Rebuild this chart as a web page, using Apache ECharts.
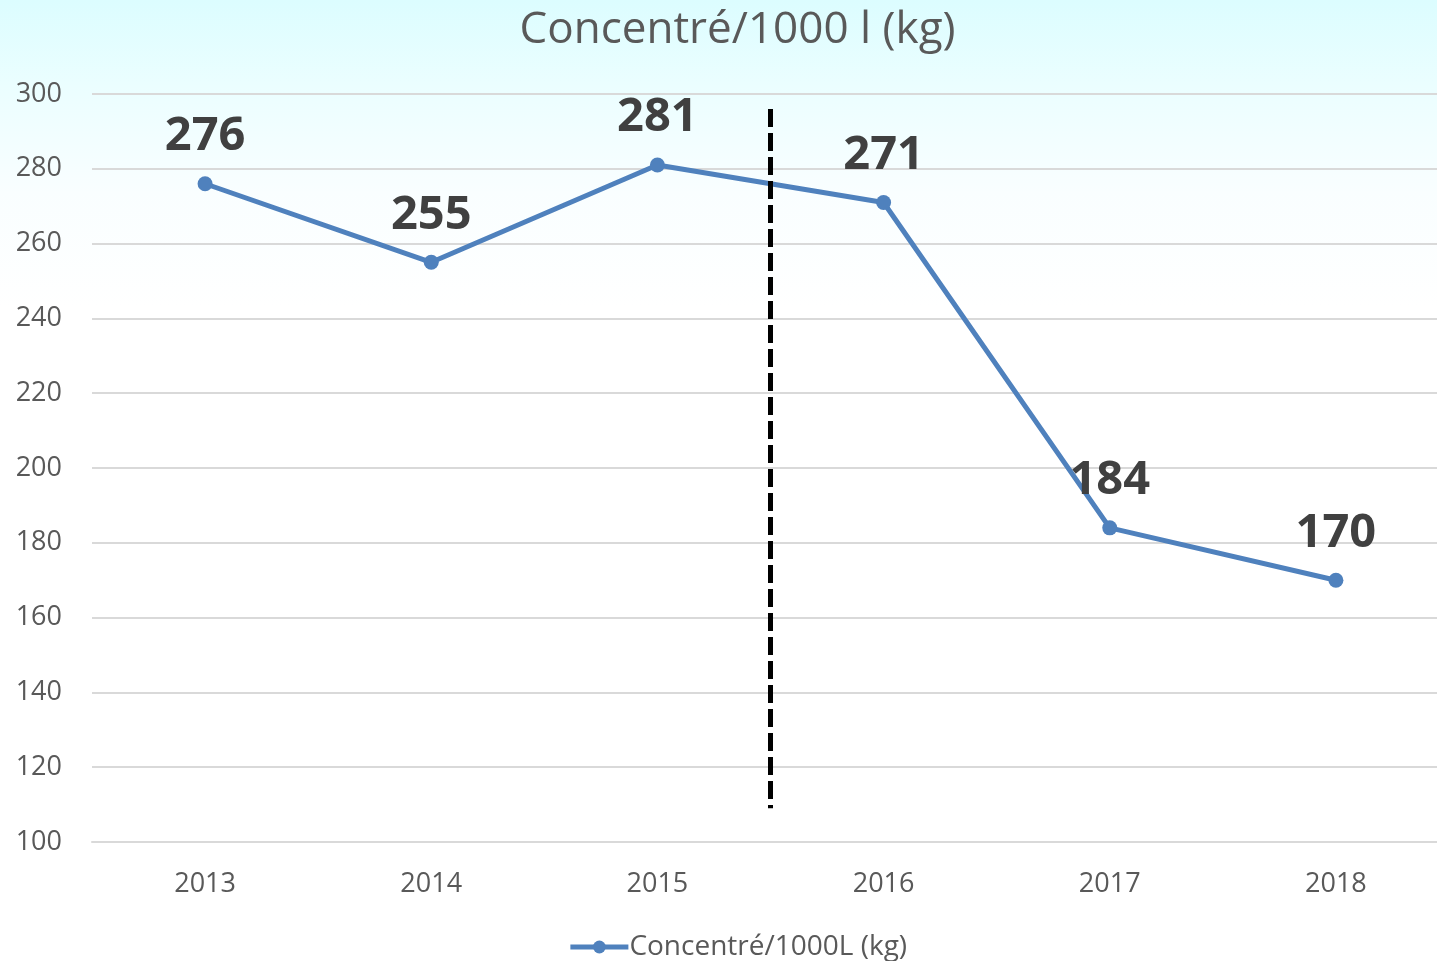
<!DOCTYPE html>
<html>
<head>
<meta charset="utf-8">
<script src="https://cdn.jsdelivr.net/npm/echarts@6/dist/echarts.min.js"></script>
<style>
html,body{margin:0;padding:0;overflow:hidden;width:1437px;height:961px;}
#main{width:1475px;height:961px;}
</style>
</head>
<body>
<div id="main"></div>
<script>
const titleText = 'Concentré/1000 l (kg)';
const seriesName = 'Concentré/1000L (kg)';
const years = ['2013', '2014', '2015', '2016', '2017', '2018'];
const values = [276, 255, 281, 271, 184, 170];
const dividerX = 3;          // boundary between 2015 and 2016 (in band units)
const dividerYRange = [296, 109];

const chart = echarts.init(document.getElementById('main'));
const font = '"Open Sans", sans-serif';
chart.setOption({
  backgroundColor: {
    type: 'linear', x: 0, y: 0, x2: 0, y2: 1,
    colorStops: [
      { offset: 0, color: '#dcfdff' },
      { offset: 0.09, color: '#ebfeff' },
      { offset: 0.2, color: '#f9feff' },
      { offset: 0.32, color: '#ffffff' },
      { offset: 1, color: '#ffffff' }
    ]
  },
  title: {
    text: titleText,
    left: 'center',
    top: 3,
    textStyle: { fontFamily: font, fontSize: 44, fontWeight: 'normal', color: '#595959' }
  },
  legend: {
    data: [seriesName],
    bottom: -5,
    left: 'center',
    itemWidth: 58,
    itemHeight: 16,
    itemGap: 0,
    lineStyle: { width: 5, color: '#4f81bd' },
    textStyle: { fontFamily: font, fontSize: 28, color: '#595959', padding: [0, 0, 0, -4] }
  },
  grid: { left: 92, right: 26, top: 94, bottom: 119, containLabel: false },
  xAxis: [
    {
      type: 'category',
      data: years,
      boundaryGap: true,
      axisLine: { show: true, lineStyle: { color: '#d9d9d9', width: 2 } },
      axisTick: { show: false },
      axisLabel: { fontFamily: font, fontSize: 27, color: '#595959', margin: 29 }
    },
    {
      type: 'value',
      min: 0, max: 6,
      show: false
    }
  ],
  yAxis: {
    type: 'value',
    min: 100, max: 300, interval: 20,
    axisLine: { show: false },
    axisTick: { show: false },
    axisLabel: { fontFamily: font, fontSize: 27, color: '#595959', margin: 30 },
    splitLine: { lineStyle: { color: '#d9d9d9', width: 2 } }
  },
  series: [
    {
      name: seriesName,
      type: 'line',
      data: values,
      color: '#4f81bd',
      lineStyle: { width: 5, color: '#4f81bd' },
      symbol: 'circle',
      symbolSize: 15,
      itemStyle: { color: '#4f81bd' },
      label: {
        show: true,
        position: 'top',
        distance: 16,
        fontFamily: font,
        fontSize: 47,
        fontWeight: 'bold',
        color: '#404040'
      },
      z: 3
    },
    {
      name: 'divider',
      type: 'line',
      xAxisIndex: 1,
      data: [[dividerX, dividerYRange[0]], [dividerX, dividerYRange[1]]],
      symbol: 'none',
      lineStyle: { color: '#000000', width: 5, type: [18, 6] },
      silent: true,
      z: 4
    }
  ]
});
</script>
</body>
</html>
